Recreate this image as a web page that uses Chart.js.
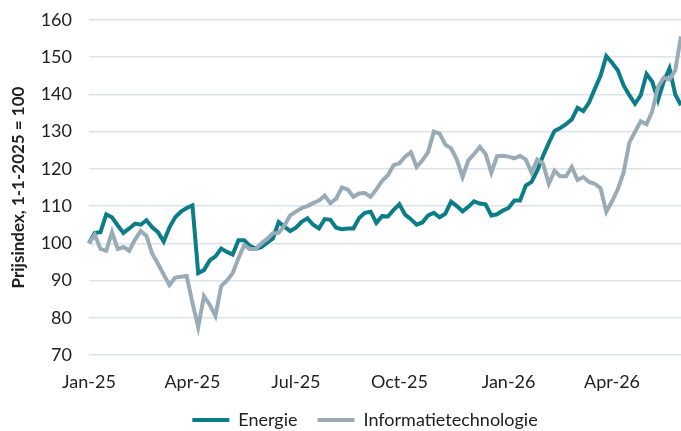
<!DOCTYPE html>
<html lang="nl">
<head>
  <meta charset="UTF-8"/>
  <title>Energie vs Informatietechnologie</title>
  <script src="https://cdn.jsdelivr.net/npm/chart.js"></script>
  <style>
    html, body { margin: 0; padding: 0; background: #fff; }
    .wrap { width: 681px; height: 431px; position: relative; }
  </style>
</head>
<body>
  <div class="wrap"><canvas id="chart"></canvas></div>
  <script>
    // one observation every 5 days from 1-1-2025
    const startDate = "2025-01-01";
    const stepDays = 5;

    const energie = [
      100, 102.8, 103, 107.8, 107, 104.8, 102.8, 104, 105.3, 105,
      106.2, 104.3, 103, 100.5, 104.3, 107, 108.5, 109.5, 110.2, 92,
      92.8, 95.4, 96.5, 98.6, 97.7, 97, 100.8, 100.8, 99.3, 98.6,
      99, 100.2, 101.3, 105.7, 104.5, 103.3, 104.2, 105.8, 106.7, 105,
      104, 106.5, 106.3, 104.2, 103.8, 104, 104, 106.8, 108.2, 108.5,
      105.5, 107.3, 107.2, 109, 110.5, 107.7, 106.5, 105, 105.6, 107.5,
      108.2, 107, 108, 111.2, 110, 108.6, 109.8, 111.3, 110.7, 110.5,
      107.5, 107.8, 108.8, 109.5, 111.5, 111.5, 115.5, 116.5, 119.6, 123.5,
      127, 130.2, 131, 132, 133.3, 136.4, 135.5, 137.8, 141.5, 145,
      150.3, 148.5, 146.5, 142.5, 139.8, 137.5, 139.8, 145.5, 143.4, 138.5,
      143.5, 147, 140, 137.1
    ];

    const it = [
      100, 102.3, 98.5, 98, 103, 98.5, 99, 98, 101, 103.3,
      102, 97.2, 94.5, 91.6, 88.8, 90.8, 91, 91.2, 84, 77.5,
      85.8, 83.5, 80.5, 88.5, 90, 92, 96, 99.5, 98.5, 98.5,
      100, 101.2, 102.7, 102.8, 104.8, 107.5, 108.5, 109.5, 110, 110.8,
      111.5, 112.8, 110.8, 112, 115, 114.5, 112.5, 113.4, 113.5, 112.5,
      114.5, 116.8, 118.3, 121, 121.5, 123.3, 124.5, 120.5, 122.3, 124.5,
      130, 129.5, 126.5, 125.5, 122.5, 117.8, 122.3, 124, 125.9, 124,
      119, 123.4, 123.5, 123.3, 122.8, 123.5, 122.5, 119, 122.5, 121.4,
      116, 119.5, 118, 118, 120.5, 117, 117.8, 116.5, 116, 114.8,
      108.5, 111.3, 114.5, 119, 127, 130, 132.8, 132, 135.5, 142,
      144.5, 144, 146.5, 155.6
    ];

    const quarterStarts = ["2025-01-01", "2025-04-01", "2025-07-01", "2025-10-01", "2026-01-01", "2026-04-01"];
    const quarterLabels = ["Jan-25", "Apr-25", "Jul-25", "Oct-25", "Jan-26", "Apr-26"];

    const dates = [];
    for (let i = 0; i < energie.length; i++) {
      const d = new Date(startDate + "T00:00:00Z");
      d.setUTCDate(d.getUTCDate() + i * stepDays);
      dates.push(d.toISOString().slice(0, 10));
    }

    const DAY = 86400000;
    function quarterLabel(index) {
      const t = Date.parse(dates[index]);
      for (let q = 0; q < quarterStarts.length; q++) {
        const diff = Date.parse(quarterStarts[q]) - t;
        if (diff >= 0 && diff < stepDays * DAY) return quarterLabels[q];
      }
      return null;
    }

    const TEAL = "#0b7d89";
    const GREY = "#98abb7";

    Chart.defaults.font.family = "Lato, 'Open Sans', sans-serif";
    Chart.defaults.color = "#222";

    // short legend strip, nudged right so it sits under the plot
    const legendTweak = {
      id: "legendTweak",
      afterInit(chart) {
        const lg = chart.legend;
        if (!lg) return;
        const fit = lg.fit.bind(lg);
        lg.fit = function () { fit(); this.height = 40; };
      },
      afterLayout(chart) {
        const lg = chart.legend;
        if (!lg) return;
        lg.left += 49;
        lg.width = lg.right - lg.left;
      }
    };

    new Chart(document.getElementById("chart"), {
      type: "line",
      data: {
        labels: dates,
        datasets: [
          {
            label: "Energie",
            data: energie,
            borderColor: TEAL,
            backgroundColor: TEAL,
            borderWidth: 4,
            pointRadius: 0,
            tension: 0,
            order: 2
          },
          {
            label: "Informatietechnologie",
            data: it,
            borderColor: GREY,
            backgroundColor: GREY,
            borderWidth: 4,
            pointRadius: 0,
            tension: 0,
            order: 1
          }
        ]
      },
      options: {
        responsive: true,
        maintainAspectRatio: false,
        animation: false,
        layout: { padding: { top: 20, right: 0, bottom: 0, left: 0 } },
        plugins: {
          tooltip: { enabled: false },
          legend: {
            position: "bottom",
            labels: {
              boxWidth: 37,
              boxHeight: 4,
              padding: 20,
              font: { size: 18 },
              sort: (a, b) => a.datasetIndex - b.datasetIndex,
              generateLabels: chart =>
                Chart.defaults.plugins.legend.labels.generateLabels(chart).map(l => ({
                  ...l, lineWidth: 0, fillStyle: l.strokeStyle
                }))
            }
          }
        },
        scales: {
          x: {
            type: "category",
            offset: false,
            grid: { display: false, drawTicks: false },
            border: { display: false },
            ticks: {
              autoSkip: false,
              maxRotation: 0,
              padding: 16,
              font: { size: 18 },
              callback: (value, index) => quarterLabel(index)
            },
            afterFit: scale => { scale.height = 36; }
          },
          y: {
            min: 70,
            max: 160,
            grid: {
              color: "#dde2e7",
              lineWidth: 1.5,
              drawTicks: true,
              tickLength: 17,
              tickColor: "rgba(0,0,0,0)"
            },
            border: { display: false },
            ticks: { stepSize: 10, padding: 0, font: { size: 18 } },
            title: {
              display: true,
              text: "Prijsindex, 1-1-2025 = 100",
              font: { size: 17, weight: "bold" },
              padding: { top: 8, bottom: 0 }
            },
            afterFit: scale => { scale.width = 89; }
          }
        }
      },
      plugins: [legendTweak]
    });
  </script>
</body>
</html>
